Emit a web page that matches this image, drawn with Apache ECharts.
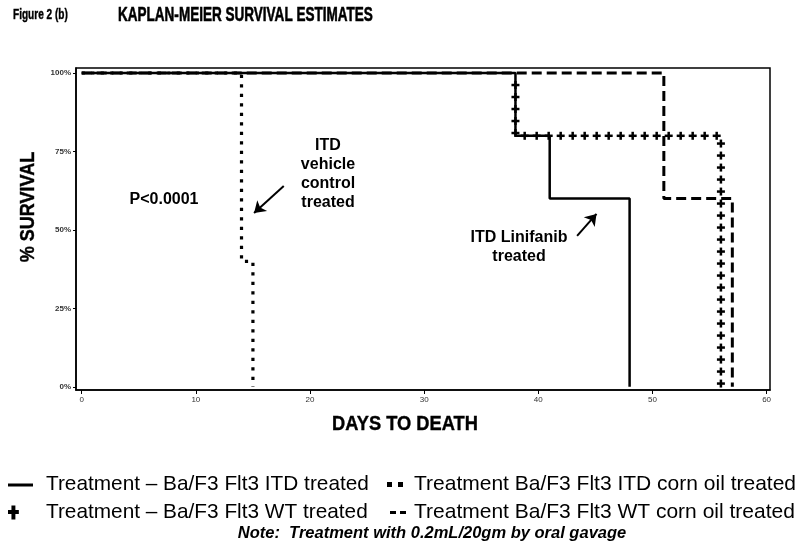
<!DOCTYPE html>
<html>
<head>
<meta charset="utf-8">
<script src="https://cdn.jsdelivr.net/npm/echarts@6/dist/echarts.min.js"></script>
<style>html,body{margin:0;padding:0;background:#fff;}#c{width:800px;height:554px;}</style>
</head>
<body>
<div id="c"></div>
<script>
// ---- data (days, % survival) ----
const itdTreatedDays = [0, 38, 41, 48];
const itdTreatedSurv = [100, 80, 60, 0];
const wtTreatedDays = [0, 38, 56];
const wtTreatedSurv = [100, 80, 0];
const itdOilDays = [0, 14, 15];
const itdOilSurv = [100, 40, 0];
const wtOilDays = [0, 51, 57];
const wtOilSurv = [100, 60, 0];
const xTicks = [0, 10, 20, 30, 40, 50, 60];
const yTicks = [0, 25, 50, 75, 100];

const names = {
  itdT: 'Treatment \u2013 Ba/F3 Flt3 ITD treated',
  wtT: 'Treatment \u2013 Ba/F3 Flt3 WT treated',
  itdO: 'Treatment Ba/F3 Flt3 ITD corn oil treated',
  wtO: 'Treatment Ba/F3 Flt3 WT corn oil treated'
};

const zip = (a, b) => a.map((v, i) => [v, b[i]]);
const ARIAL = '"Liberation Sans",Arial,sans-serif';

const SPACING = 12, ARM = 4;
function renderCrosses(params, api) {
  const i = params.dataIndexInside, n = params.dataInsideLength;
  if (i >= n - 1) return null;
  let s = 0; const children = [];
  for (let j = 0; j < n - 1; j++) {
    const yv = api.value(1, j);
    const p0 = api.coord([api.value(0, j), yv]);
    const p1 = api.coord([api.value(0, j + 1), yv]);
    const p2 = api.coord([api.value(0, j + 1), api.value(1, j + 1)]);
    const segs = [];
    if (yv < 100) segs.push([p0, p1]);
    segs.push([p1, p2]);
    for (const [a, b] of segs) {
      const len = Math.hypot(b[0] - a[0], b[1] - a[1]);
      if (j === i && len > 0) {
        for (let k = Math.floor(s / SPACING) + 1; k * SPACING <= s + len; k++) {
          const t = (k * SPACING - s) / len;
          const cx = a[0] + (b[0] - a[0]) * t, cy = a[1] + (b[1] - a[1]) * t;
          children.push({type: 'line', shape: {x1: cx - ARM, y1: cy, x2: cx + ARM, y2: cy}, style: {stroke: '#000', lineWidth: 2.5}});
          children.push({type: 'line', shape: {x1: cx, y1: cy - ARM, x2: cx, y2: cy + ARM}, style: {stroke: '#000', lineWidth: 2.5}});
        }
      }
      s += len;
    }
  }
  return {type: 'group', children};
}

const chart = echarts.init(document.getElementById('c'), null, {renderer: 'canvas'});
const option = {
  animation: false,
  backgroundColor: '#fff',
  grid: {left: 76, right: 30, top: 68, bottom: 164, show: true, borderColor: '#000', borderWidth: 1.5, backgroundColor: 'transparent'},
  xAxis: {
    type: 'value', min: -0.5, max: 60.3,
    axisLine: {show: true, onZero: false, lineStyle: {color: '#000', width: 1.5}},
    axisTick: {show: true, customValues: xTicks, length: 4, lineStyle: {color: '#000'}},
    axisLabel: {customValues: xTicks, fontSize: 8, color: '#333', margin: 6, fontFamily: ARIAL},
    splitLine: {show: false}
  },
  yAxis: {
    type: 'value', min: -1, max: 101.6,
    axisLine: {show: true, onZero: false, lineStyle: {color: '#000', width: 1.5}},
    axisTick: {show: true, customValues: yTicks, length: 3, lineStyle: {color: '#000'}},
    axisLabel: {customValues: yTicks, formatter: '{value}%', fontSize: 8, fontWeight: 'bold', color: '#333', margin: 5, fontFamily: ARIAL},
    splitLine: {show: false}
  },
  legend: [
    {
      left: 8, top: 474, orient: 'vertical', itemGap: 7, itemWidth: 33, itemHeight: 14, padding: 0,
      selectedMode: false,
      textStyle: {fontSize: 20.8, color: '#000', fontFamily: ARIAL},
      itemStyle: {color: '#000', borderWidth: 0},
      data: [
        {name: names.itdT, icon: 'path://M0,0M33,14M0,6h25v3h-25z'},
        {name: names.wtT, icon: 'path://M0,0M33,14M3,0h4v4.5h3.5v4h-3.5v5.5h-4v-5.5h-3.5v-4h3.5z'}
      ]
    },
    {
      left: 385, top: 474, orient: 'vertical', itemGap: 7, itemWidth: 24, itemHeight: 14, padding: 0,
      selectedMode: false,
      textStyle: {fontSize: 21, color: '#000', fontFamily: ARIAL},
      itemStyle: {color: '#000', borderWidth: 0},
      data: [
        {name: names.itdO, icon: 'path://M0,0M24,14M2,4.5h5v5h-5zM13,4.5h5v5h-5z'},
        {name: names.wtO, icon: 'path://M0,0M24,14M5,5.5h6v3h-6zM15,5.5h6v3h-6z'}
      ]
    }
  ],
  graphic: [
    {type: 'text', x: 13, y: 15, scaleX: 0.72, style: {text: 'Figure 2 (b)', font: 'bold 14px ' + ARIAL, fill: '#000', stroke: '#000', lineWidth: 0.4, align: 'left', verticalAlign: 'middle'}},
    {type: 'text', x: 118, y: 15, scaleX: 0.66, style: {text: 'KAPLAN-MEIER SURVIVAL ESTIMATES', font: 'bold 20.5px ' + ARIAL, fill: '#000', stroke: '#000', lineWidth: 0.6, align: 'left', verticalAlign: 'middle'}},
    {type: 'text', x: 28, y: 207, rotation: Math.PI / 2, scaleX: 0.86, style: {text: '% SURVIVAL', font: 'bold 21px ' + ARIAL, fill: '#000', stroke: '#000', lineWidth: 0.4, align: 'center', verticalAlign: 'middle'}},
    {type: 'text', x: 405, y: 424, scaleX: 0.87, style: {text: 'DAYS TO DEATH', font: 'bold 21px ' + ARIAL, fill: '#000', stroke: '#000', lineWidth: 0.4, align: 'center', verticalAlign: 'middle'}},
    {type: 'text', x: 164, y: 200, style: {text: 'P<0.0001', font: 'bold 16px ' + ARIAL, fill: '#000', align: 'center', verticalAlign: 'middle'}},
    {type: 'text', x: 328, y: 174, style: {text: 'ITD\nvehicle\ncontrol\ntreated', font: 'bold 16px ' + ARIAL, lineHeight: 19, fill: '#000', align: 'center', verticalAlign: 'middle'}},
    {type: 'text', x: 519, y: 247, style: {text: 'ITD Linifanib\ntreated', font: 'bold 16px ' + ARIAL, lineHeight: 19, fill: '#000', align: 'center', verticalAlign: 'middle'}},
    {type: 'text', x: 432, y: 533, style: {text: 'Note:  Treatment with 0.2mL/20gm by oral gavage', font: 'italic bold 16.5px ' + ARIAL, fill: '#000', align: 'center', verticalAlign: 'middle'}}
  ],
  series: [
    {
      name: names.wtO, type: 'line', step: 'end', data: zip(wtOilDays, wtOilSurv),
      showSymbol: false, symbol: 'none', itemStyle: {color: '#000'},
      lineStyle: {color: '#000', width: 3, type: [10, 5], cap: 'butt'}
    },
    {
      name: names.itdO, type: 'line', step: 'end', data: zip(itdOilDays, itdOilSurv),
      showSymbol: false, symbol: 'none', itemStyle: {color: '#000'},
      lineStyle: {color: '#000', width: 3.2, type: [3.2, 6.3], cap: 'butt'}
    },
    {
      name: names.wtT, type: 'custom', coordinateSystem: 'cartesian2d',
      data: zip(wtTreatedDays, wtTreatedSurv), encode: {x: 0, y: 1},
      itemStyle: {color: '#000'}, renderItem: renderCrosses
    },
    {
      name: names.itdT, type: 'line', step: 'end', data: zip(itdTreatedDays, itdTreatedSurv),
      showSymbol: false, symbol: 'none', itemStyle: {color: '#000'},
      lineStyle: {color: '#000', width: 2.5},
      markLine: {
        silent: true, symbol: ['none', 'arrow'], symbolSize: 11,
        label: {show: false},
        lineStyle: {color: '#000', width: 2, type: 'solid'},
        data: [
          [{coord: [17.7, 64.0]}, {coord: [15.1, 55.4]}],
          [{coord: [43.4, 48.1]}, {coord: [45.1, 55.1]}]
        ]
      }
    }
  ]
};
chart.setOption(option);
</script>
</body>
</html>
